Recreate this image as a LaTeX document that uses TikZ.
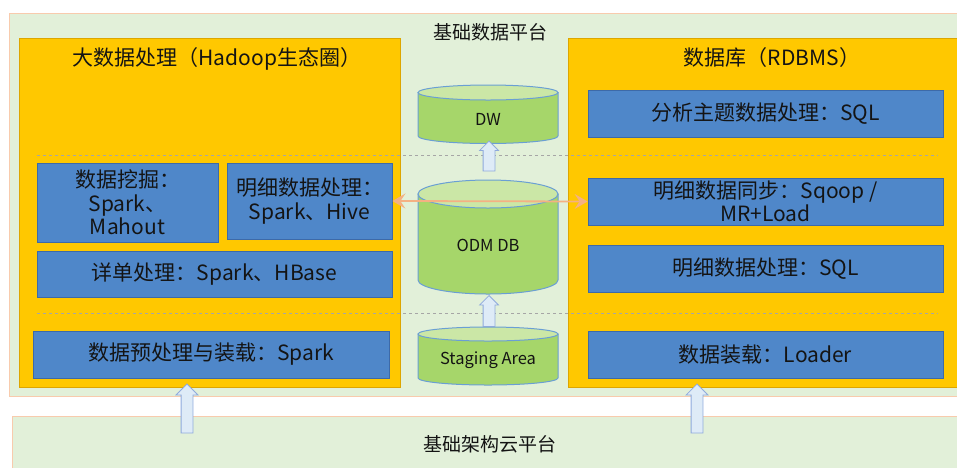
\documentclass[tikz,border=0pt]{standalone}
\usepackage{fontspec}
\setmainfont{Noto Sans CJK SC}
\usetikzlibrary{shapes.arrows,arrows.meta}
\definecolor{platfill}{HTML}{E2F0D9}
\definecolor{platline}{HTML}{F8CBAD}
\definecolor{yel}{HTML}{FFC800}
\definecolor{yelline}{HTML}{DDA600}
\definecolor{bluebox}{HTML}{4F87C9}
\definecolor{blueline}{HTML}{3D6AA8}
\definecolor{cylbody}{HTML}{A6D66A}
\definecolor{cyltop}{HTML}{CBE7A6}
\definecolor{cylline}{HTML}{6A9FD4}
\definecolor{arrfill}{HTML}{DEEBF7}
\definecolor{arrline}{HTML}{8FAADC}
\definecolor{salmon}{HTML}{F4B183}
\definecolor{txt}{HTML}{141414}
\tikzset{
  plat/.style={draw=platline, fill=platfill, line width=0.8pt},
  yelbox/.style={draw=yelline, fill=yel, line width=1pt},
  bluerect/.style={draw=blueline, fill=bluebox, line width=0.8pt, inner sep=0pt,
    text=txt, align=center, font=\fontsize{21}{23.5}\selectfont},
  title/.style={text=txt, font=\fontsize{21}{23}\selectfont, inner sep=0pt},
  plattext/.style={text=txt, font=\fontsize{19}{22}\selectfont, inner sep=0pt},
  cyltext/.style={text=txt, font=\fontsize{16.5}{18}\selectfont, inner sep=0pt},
  sep/.style={draw=gray!70, dashed, dash pattern=on 3pt off 3pt, line width=0.6pt},
  blockarrow/.style={single arrow, draw=arrline, fill=arrfill, line width=0.8pt,
    inner xsep=0pt, rotate=90},
  duo/.style={draw=salmon, line width=1.8pt,
    {Stealth[length=13pt,width=15pt,inset=5pt]}-{Stealth[length=13pt,width=15pt,inset=5pt]}},
  cylshape/.style={draw=cylline, line width=1pt}
}
\begin{document}
\begin{tikzpicture}[x=1pt,y=-1pt]
\useasboundingbox (0,0) rectangle (957,467);
\clip (0,0) rectangle (957,467);
% platforms
\draw[plat] (9,13) rectangle (975,396);
\draw[plat] (12,416) rectangle (975,480);
\node[plattext] (ptop) at (490,32) {基础数据平台};
\node[plattext] (pbot) at (490,444) {基础架构云平台};
% yellow boxes
\node[yelbox, minimum width=381pt, minimum height=349pt, inner sep=0pt] (hadoop) at (209.5,212.5) {};
\node[yelbox, minimum width=402pt, minimum height=349pt, inner sep=0pt] (rdbms) at (769,212.5) {};
\node[title] (htitle) at (217,59) {大数据处理（Hadoop生态圈）};
\node[title] (rtitle) at (772,58) {数据库（RDBMS）};
% dashed separators
\draw[sep] (37,155) -- (938,155);
\draw[sep] (37,313) -- (938,313);
% left blue boxes
\node[bluerect, minimum width=181pt, minimum height=79pt] (dm) at (127.5,202.5) {数据挖掘：\\Spark、\\Mahout};
\node[bluerect, minimum width=165pt, minimum height=76pt] (mx) at (309.5,201) {明细数据处理：\\Spark、Hive};
\node[bluerect, minimum width=355pt, minimum height=46pt] (xd) at (214.5,274) {详单处理：Spark、HBase};
\node[bluerect, minimum width=356pt, minimum height=47pt] (yc) at (211,354.5) {数据预处理与装载：Spark};
% right blue boxes
\node[bluerect, minimum width=355pt, minimum height=47pt] (fx) at (765.5,113.5) {分析主题数据处理：SQL};
\node[bluerect, minimum width=355pt, minimum height=47pt] (tb) at (765.5,201.5) {明细数据同步：Sqoop /\\MR+Load};
\node[bluerect, minimum width=355pt, minimum height=47pt] (sq) at (765.5,268.5) {明细数据处理：SQL};
\node[bluerect, minimum width=355pt, minimum height=47pt] (ld) at (765.5,354.5) {数据装载：Loader};
% cylinders
% DW
\path[cylshape, fill=cylbody] (418,92.5) -- (418,136) arc[start angle=180, end angle=0, x radius=70, y radius=7.5] -- (558,92.5) -- cycle;
\path[cylshape, fill=cyltop] (488,92.5) ellipse [x radius=70, y radius=7.5];
\node[cyltext] (dw) at (488,119) {DW};
% ODM DB
\path[cylshape, fill=cylbody] (418,194) -- (418,280) arc[start angle=180, end angle=0, x radius=70, y radius=14] -- (558,194) -- cycle;
\path[cylshape, fill=cyltop] (488,194) ellipse [x radius=70, y radius=14];
\node[cyltext] (odm) at (488,245) {ODM DB};
% Staging Area
\path[cylshape, fill=cylbody] (418,334) -- (418,378) arc[start angle=180, end angle=0, x radius=70, y radius=7] -- (558,334) -- cycle;
\path[cylshape, fill=cyltop] (488,334) ellipse [x radius=70, y radius=7];
\node[cyltext] (stg) at (488,360) {Staging Area};
% block arrows
\node[blockarrow, minimum height=30pt, inner ysep=5.5pt, single arrow head extend=3.5pt] (a1) at (489,159) {};
\node[blockarrow, minimum height=31pt, inner ysep=5.5pt, single arrow head extend=3.5pt] (a2) at (489,314) {};
\node[blockarrow, minimum height=49pt, inner ysep=5.5pt, single arrow head extend=5pt] (a3) at (187,411.5) {};
\node[blockarrow, minimum height=49pt, inner ysep=5.5pt, single arrow head extend=5pt] (a4) at (697,411.5) {};
% double arrow
\draw[duo] (mx.east) -- (tb.west);
\end{tikzpicture}
\end{document}
